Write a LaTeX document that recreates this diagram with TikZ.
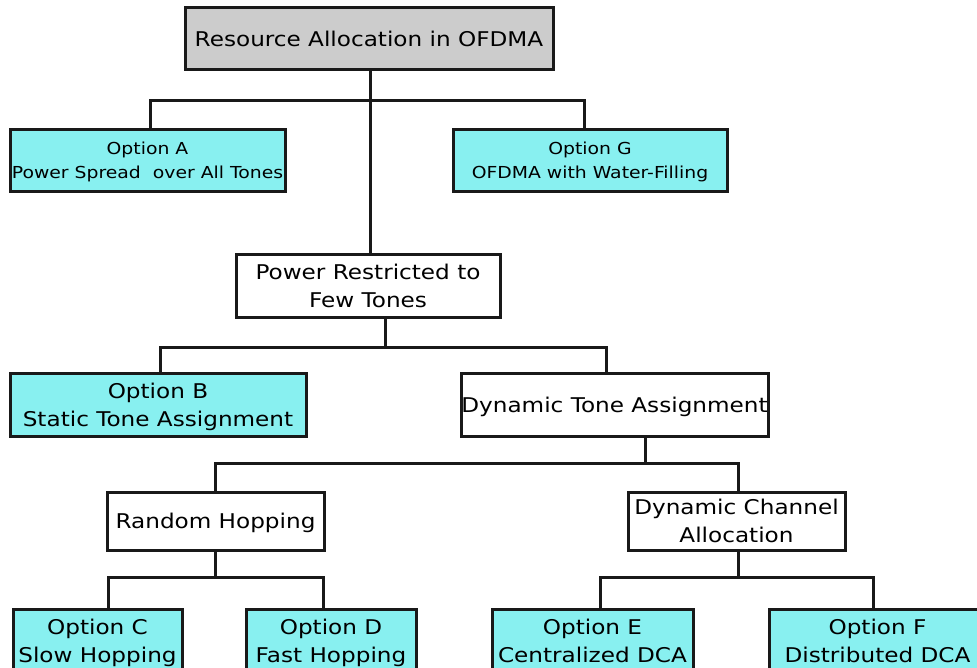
\documentclass[tikz,border=0pt]{standalone}
\usepackage{fontspec}
\setmainfont{DejaVu Sans}
\usepackage{graphicx}
\definecolor{optcyan}{RGB}{136,240,240}
\definecolor{rootgray}{RGB}{204,204,204}
\newcommand\bigtxt[1]{\raisebox{-2pt}[\height][\depth]{\scalebox{1.14}[1]{\fontsize{20.3}{28}\selectfont\begin{tabular}{@{}c@{}}#1\end{tabular}}}}
\newcommand\smalltxt[1]{\raisebox{-1pt}[\height][\depth]{\scalebox{1.14}[1]{\fontsize{16.5}{24}\selectfont\begin{tabular}{@{}c@{}}#1\end{tabular}}}}
\begin{document}
\begin{tikzpicture}[x=1pt,y=-1pt,
  boxbase/.style={draw=black!90, line width=3pt, inner sep=0pt, anchor=center},
  plainbox/.style={boxbase, fill=white},
  optbox/.style={boxbase, fill=optcyan},
  rootbox/.style={boxbase, fill=rootgray},
  conn/.style={draw=black!90, line width=3pt, line join=miter}]
\useasboundingbox (0,0) rectangle (977,668);
\clip (0,0) rectangle (977,668);
\fill[white] (0,0) rectangle (977,668);

\node[rootbox, minimum width=368, minimum height=62] (root) at (369,39) {\bigtxt{Resource Allocation in OFDMA}};
\node[optbox, minimum width=275, minimum height=62] (oa) at (147.5,161) {\smalltxt{Option A\\Power Spread\ \ over All Tones}};
\node[optbox, minimum width=274, minimum height=62] (og) at (590,161) {\smalltxt{Option G\\OFDMA with Water-Filling}};
\node[plainbox, minimum width=264, minimum height=62] (pr) at (368,286) {\bigtxt{Power Restricted to\\Few Tones}};
\node[optbox, minimum width=296, minimum height=63] (ob) at (158,404.5) {\bigtxt{Option B\\Static Tone Assignment}};
\node[plainbox, minimum width=307, minimum height=63] (dta) at (614.5,404.5) {\bigtxt{Dynamic Tone Assignment}};
\node[plainbox, minimum width=217, minimum height=58] (rh) at (215.5,521) {\bigtxt{Random Hopping}};
\node[plainbox, minimum width=217, minimum height=58] (dca) at (736.5,521) {\bigtxt{Dynamic Channel\\Allocation}};
\node[optbox, minimum width=169, minimum height=63] (oc) at (97.5,640.5) {\bigtxt{Option C\\Slow Hopping}};
\node[optbox, minimum width=170, minimum height=63] (od) at (331,640.5) {\bigtxt{Option D\\Fast Hopping}};
\node[optbox, minimum width=201, minimum height=63] (oe) at (592.5,640.5) {\bigtxt{Option E\\Centralized DCA}};
\node[optbox, minimum width=217, minimum height=63] (of) at (877.5,640.5) {\bigtxt{Option F\\Distributed DCA}};

\coordinate (j1) at (370,101);
\coordinate (j2) at (385,347);
\coordinate (j3) at (645,463);
\coordinate (j4) at (215,577);
\coordinate (j5) at (738,577);

% root
\draw[conn] ([xshift=1pt]root.south) -- ([xshift=2pt]pr.north);
\draw[conn] ([xshift=2.5pt]oa.north) |- (j1) -| ([xshift=-6pt]og.north);
% power restricted
\draw[conn] ([xshift=17pt]pr.south) -- (j2);
\draw[conn] ([xshift=2pt]ob.north) |- (j2) -| ([xshift=-8.5pt]dta.north);
% dynamic tone assignment
\draw[conn] ([xshift=30.5pt]dta.south) -- (j3);
\draw[conn] ([xshift=-0.5pt]rh.north) |- (j3) -| ([xshift=1.5pt]dca.north);
% random hopping
\draw[conn] ([xshift=-0.5pt]rh.south) -- (j4);
\draw[conn] ([xshift=10.5pt]oc.north) |- (j4) -| ([xshift=-8pt]od.north);
% dynamic channel allocation
\draw[conn] ([xshift=1.5pt]dca.south) -- (j5);
\draw[conn] ([xshift=7.5pt]oe.north) |- (j5) -| ([xshift=-4.5pt]of.north);
\end{tikzpicture}
\end{document}
